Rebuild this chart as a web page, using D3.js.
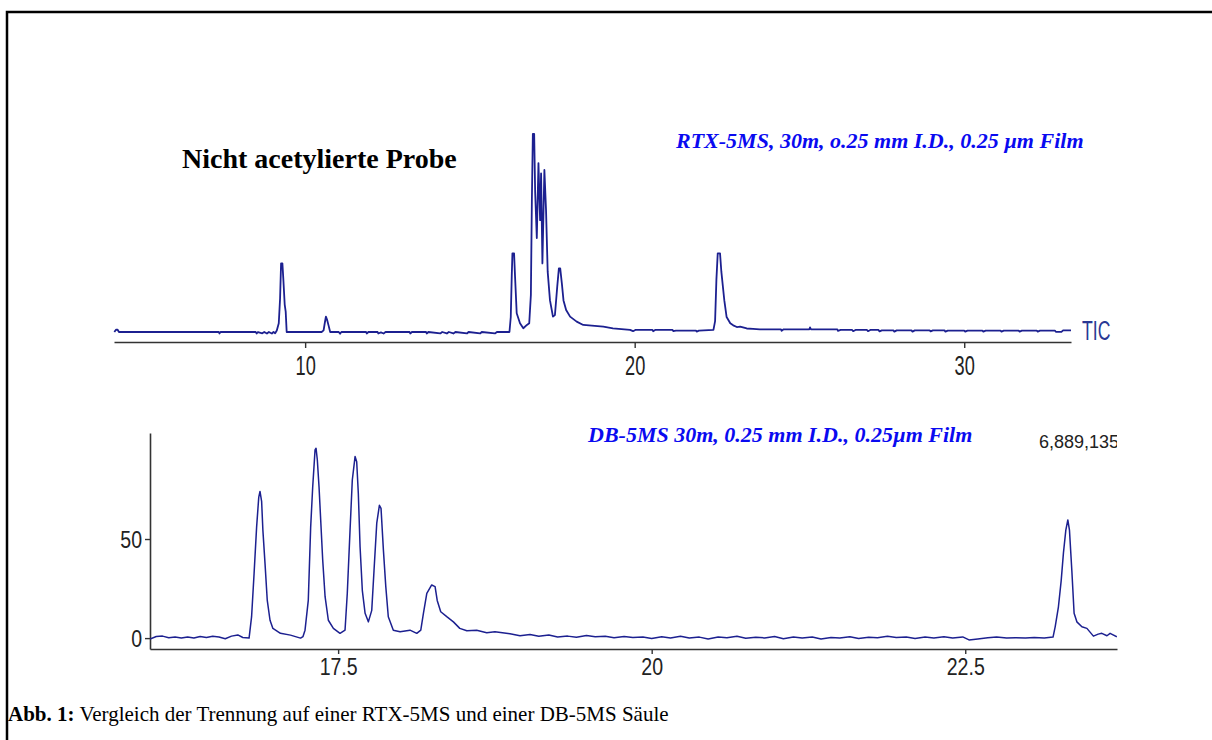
<!DOCTYPE html>
<html>
<head>
<meta charset="utf-8">
<script src="https://cdn.jsdelivr.net/npm/d3@7"></script>
<style>
  body { margin: 0; background: #fff; }
  svg { display: block; }
</style>
</head>
<body>
<script>
// ---- RTX-5MS total ion chromatogram: [retention time (min), relative signal] ----
const rtxTicks = [10, 20, 30];
const rtxTrace = [
  [4.21, 4.8], [4.26, 5.9], [4.31, 5.9], [4.35, 4.8], [5.0, 4.8], [5.8, 4.8], [6.6, 4.8],
  [7.38, 4.8], [7.40, 4.1], [7.43, 4.8], [8.2, 4.8], [8.50, 4.8], [8.53, 4.1], [8.57, 4.8],
  [8.70, 4.2], [8.76, 4.8], [8.84, 4.1], [8.90, 4.8], [8.99, 4.1], [9.04, 4.8], [9.09, 4.2],
  [9.14, 5.5], [9.20, 9], [9.24, 21], [9.27, 37.8], [9.31, 37.8], [9.34, 29.8], [9.38, 18],
  [9.41, 14.6], [9.44, 4.8], [10.00, 4.8], [10.50, 4.8], [10.56, 5.6], [10.60, 9.5],
  [10.63, 12.2], [10.67, 10.5], [10.71, 8.0], [10.76, 4.8], [11.02, 4.8], [11.06, 4.0],
  [11.10, 4.8], [11.85, 4.8], [11.87, 4.1], [11.92, 4.8], [12.20, 4.8], [12.22, 4.1],
  [12.30, 4.6], [12.38, 4.1], [12.44, 4.8], [13.17, 4.8], [13.19, 4.1], [13.24, 4.8],
  [13.67, 4.8], [13.69, 4.1], [13.74, 4.8], [14.10, 4.1], [14.16, 4.8], [14.30, 4.1],
  [14.36, 4.8], [14.50, 4.1], [14.56, 4.8], [14.91, 4.1], [14.96, 4.8], [15.31, 4.1],
  [15.36, 4.8], [15.76, 4.1], [15.82, 4.8], [16.20, 4.8], [16.24, 12], [16.27, 32],
  [16.29, 42.6], [16.34, 42.6], [16.37, 31.4], [16.42, 13.8], [16.52, 9], [16.62, 6.6],
  [16.73, 8.2], [16.80, 9], [16.85, 22.6], [16.88, 67.5], [16.91, 100], [16.95, 100],
  [16.98, 72], [17.03, 50], [17.08, 86], [17.13, 58.6], [17.16, 81], [17.20, 37.8],
  [17.26, 82.7], [17.31, 63.5], [17.36, 33.8], [17.43, 20], [17.52, 12.2], [17.58, 13],
  [17.65, 26.6], [17.70, 35.4], [17.74, 35.4], [17.79, 28.2], [17.84, 20], [17.92, 15.4],
  [18.04, 12.2], [18.24, 9.8], [18.44, 8.2], [19.05, 7.4], [19.34, 6.6], [19.86, 5.8],
  [19.95, 5.2], [20.02, 5.8], [20.54, 5.8], [20.56, 5.2], [20.62, 5.8], [21.15, 5.8],
  [21.17, 5.2], [21.25, 5.5], [21.86, 5.5], [21.88, 5.0], [21.95, 5.5], [22.39, 5.8],
  [22.44, 10], [22.48, 30], [22.52, 42.6], [22.59, 42.6], [22.63, 33.8], [22.72, 20],
  [22.79, 12], [22.90, 9], [22.99, 8], [23.10, 7.2], [23.20, 7.4], [23.40, 6.5],
  [23.59, 6.3], [23.80, 6.1], [24.44, 6.1], [24.46, 5.4], [24.52, 6.1], [25.30, 6.1],
  [25.32, 7.0], [25.35, 6.1], [26.15, 6.1], [26.17, 5.4], [26.25, 5.8], [26.60, 5.8],
  [26.63, 5.2], [26.70, 5.8], [27.05, 5.8], [27.08, 5.2], [27.15, 5.8], [27.40, 5.8],
  [27.43, 5.1], [27.50, 5.6], [27.85, 5.6], [27.88, 5.0], [27.95, 5.6], [28.40, 5.6],
  [28.43, 5.0], [28.50, 5.6], [28.95, 5.6], [28.98, 5.1], [29.05, 5.6], [29.40, 5.6],
  [29.43, 5.0], [29.50, 5.5], [30.00, 5.5], [30.03, 5.0], [30.10, 5.5], [30.55, 5.5],
  [30.58, 5.0], [30.65, 5.5], [31.10, 5.5], [31.13, 5.0], [31.20, 5.5], [31.65, 5.5],
  [31.68, 5.0], [31.75, 5.5], [32.20, 5.5], [32.23, 5.0], [32.30, 5.5], [32.75, 5.5],
  [32.78, 4.9], [32.95, 4.9], [33.00, 5.6], [33.24, 5.6]
];

// ---- DB-5MS chromatogram (%): [retention time (min), relative abundance] ----
const dbTicks = [17.5, 20, 22.5];
const dbYTicks = [0, 50];
const dbTrace = [
  [16.00, -0.5], [16.05, 0.8], [16.10, 1.0], [16.15, 0.2], [16.20, 0.5], [16.25, 0.0],
  [16.30, 0.6], [16.35, 0.1], [16.40, 0.8], [16.45, 0.3], [16.50, 0.9], [16.55, 0.6],
  [16.60, -0.3], [16.65, 1.0], [16.70, 1.6], [16.74, 0.3], [16.79, 0.0], [16.81, 10.8],
  [16.83, 32.7], [16.85, 56], [16.867, 71], [16.877, 74], [16.89, 69], [16.90, 54.5],
  [16.917, 37.7], [16.935, 19], [16.957, 9], [16.98, 4.9], [17.04, 2.4], [17.12, 1.5],
  [17.20, 0.0], [17.22, 0.8], [17.236, 4], [17.262, 19], [17.281, 56], [17.297, 76],
  [17.316, 95], [17.324, 95.8], [17.334, 90], [17.348, 76], [17.361, 59.6], [17.377, 39.4],
  [17.396, 20.9], [17.422, 9], [17.462, 4.9], [17.515, 2.4], [17.555, 4], [17.573, 22.6],
  [17.595, 54.5], [17.613, 79.8], [17.635, 91.6], [17.648, 89], [17.661, 73], [17.675, 46],
  [17.693, 24], [17.715, 12.5], [17.741, 8.2], [17.768, 14], [17.786, 34], [17.808, 58],
  [17.829, 67], [17.842, 65.5], [17.861, 44.4], [17.88, 26], [17.90, 10.8], [17.94, 4],
  [17.994, 3.2], [18.073, 4], [18.127, 2.4], [18.159, 4], [18.18, 12.5], [18.207, 22.6],
  [18.246, 26.8], [18.273, 26], [18.29, 19], [18.318, 13.3], [18.366, 10.8], [18.419, 8.2],
  [18.47, 4.9], [18.526, 3.7], [18.605, 4], [18.685, 2.7], [18.75, 3.2], [18.87, 2.2],
  [18.95, 1.2], [19.03, 1.8], [19.10, 0.9], [19.18, 1.6], [19.25, 0.6], [19.33, 1.0],
  [19.40, 0.4], [19.48, 1.3], [19.55, 0.7], [19.63, 0.9], [19.70, 0.2], [19.78, 0.8],
  [19.85, 0.3], [19.93, 0.6], [20.00, -0.2], [20.08, 0.7], [20.15, 0.1], [20.23, 0.9],
  [20.30, 0.0], [20.38, 0.5], [20.45, -0.4], [20.53, 0.6], [20.60, 0.2], [20.68, 0.9],
  [20.75, -0.1], [20.83, 0.4], [20.90, 0.1], [20.98, 0.8], [21.05, -0.3], [21.13, 0.5],
  [21.20, 0.0], [21.28, 0.6], [21.35, -0.5], [21.43, 0.3], [21.50, 0.1], [21.58, 0.7],
  [21.65, -0.2], [21.73, 0.4], [21.80, 0.2], [21.88, 0.9], [21.95, 0.3], [22.03, 0.6],
  [22.10, -0.2], [22.18, 0.5], [22.25, 0.1], [22.33, 0.7], [22.40, 0.0], [22.48, 0.6],
  [22.53, -0.9], [22.60, -0.4], [22.68, 0.2], [22.75, 0.6], [22.83, 0.1], [22.90, 0.2],
  [22.98, 0.0], [23.05, 0.3], [23.13, 0.1], [23.20, 0.5], [23.217, 5.7], [23.243, 15.8],
  [23.265, 29], [23.283, 43], [23.302, 54.5], [23.318, 59.6], [23.331, 54.5], [23.35, 34],
  [23.368, 12.5], [23.39, 8.2], [23.43, 5.7], [23.47, 4.9], [23.522, 1.0], [23.56, 2.0],
  [23.589, 2.4], [23.63, 1.2], [23.655, 2.4], [23.709, 0.7]
];

// ---- labels ----
const sampleTitle = "Nicht acetylierte Probe";
const rtxLabel = "RTX-5MS, 30m, o.25 mm I.D., 0.25 µm Film";
const dbLabel = "DB-5MS 30m, 0.25 mm I.D., 0.25µm Film";
const ticLabel = "TIC";
const dbMaxLabel = "6,889,135";
const captionBold = "Abb. 1:";
const captionText = " Vergleich der Trennung auf einer RTX-5MS und einer DB-5MS Säule";

const W = 1212, H = 740;
const traceColor = "#1c2090";
const labelBlue = "#0a0af0";
const axisColor = "#333";
const sansFont = "'Liberation Sans', Arial, sans-serif";
const serifFont = "'Liberation Serif', 'Times New Roman', serif";

const svg = d3.select("body").append("svg").attr("width", W).attr("height", H);

// page frame
svg.append("path")
  .attr("d", `M7,${H}V12H${W}`)
  .attr("fill", "none").attr("stroke", "#000").attr("stroke-width", 2.5);

// ===== upper panel: RTX-5MS =====
const xTop = d3.scaleLinear().domain([4.2, 33.24]).range([114, 1071]);
const yTop = d3.scaleLinear().domain([0, 100]).range([342, 134]);

const axTop = svg.append("g")
  .attr("transform", `translate(0,${yTop(0)})`)
  .call(d3.axisBottom(xTop).tickValues(rtxTicks).tickSize(6).tickSizeOuter(0).tickFormat(d3.format("d")));
axTop.select(".domain").attr("stroke", axisColor).attr("stroke-width", 1.6);
axTop.selectAll(".tick line").attr("stroke", axisColor).attr("stroke-width", 1.4);
axTop.selectAll(".tick text")
  .attr("font-family", sansFont).attr("font-size", 28).attr("fill", "#222")
  .attr("y", 33).attr("dy", null)
  .attr("transform", "scale(0.65,1)");

const lineTop = d3.line().x(d => xTop(d[0])).y(d => yTop(d[1]));
svg.append("path").datum(rtxTrace)
  .attr("d", lineTop)
  .attr("fill", "none").attr("stroke", traceColor)
  .attr("stroke-width", 1.8).attr("stroke-linejoin", "round");

svg.append("g").attr("transform", `translate(1082,340) scale(0.63,1)`)
  .append("text").text(ticLabel)
  .attr("font-family", sansFont).attr("font-size", 28).attr("fill", "#2a3894");

svg.append("text").text(sampleTitle)
  .attr("x", 182).attr("y", 168)
  .attr("font-family", serifFont).attr("font-weight", "bold").attr("font-size", 28)
  .attr("fill", "#000");

svg.append("text").text(rtxLabel)
  .attr("x", 676).attr("y", 148)
  .attr("font-family", serifFont).attr("font-weight", "bold").attr("font-style", "italic")
  .attr("font-size", 22).attr("fill", labelBlue);

// ===== lower panel: DB-5MS =====
const xBot = d3.scaleLinear().domain([16.0, 23.71]).range([150, 1117]);
const yBot = d3.scaleLinear().domain([-5.5, 103.5]).range([649, 433]);

svg.append("defs").append("clipPath").attr("id", "botClip")
  .append("rect").attr("x", 150).attr("y", 400).attr("width", 1117 - 150).attr("height", 260);

const axBotX = svg.append("g")
  .attr("transform", `translate(0,649)`)
  .call(d3.axisBottom(xBot).tickValues(dbTicks).tickSize(5).tickSizeOuter(0).tickFormat(d => d % 1 ? d3.format(".1f")(d) : d3.format("d")(d)));
axBotX.select(".domain").attr("stroke", axisColor).attr("stroke-width", 1.6);
axBotX.selectAll(".tick line").attr("stroke", axisColor).attr("stroke-width", 1.4);
axBotX.selectAll(".tick text")
  .attr("font-family", sansFont).attr("font-size", 23).attr("fill", "#222")
  .attr("y", 26).attr("dy", null)
  .attr("transform", "scale(0.85,1)");

const axBotY = svg.append("g")
  .attr("transform", `translate(150,0)`)
  .call(d3.axisLeft(yBot).tickValues(dbYTicks).tickSize(5).tickSizeOuter(0).tickFormat(d3.format("d")));
axBotY.select(".domain").attr("stroke", axisColor).attr("stroke-width", 1.6);
axBotY.selectAll(".tick line").attr("stroke", axisColor).attr("stroke-width", 1.4);
axBotY.selectAll(".tick text")
  .attr("font-family", sansFont).attr("font-size", 23).attr("fill", "#222")
  .attr("x", -9.4).attr("dy", "0.36em")
  .attr("transform", "scale(0.85,1)");

const lineBot = d3.line().x(d => xBot(d[0])).y(d => yBot(d[1]));
svg.append("path").datum(dbTrace)
  .attr("d", lineBot)
  .attr("clip-path", "url(#botClip)")
  .attr("fill", "none").attr("stroke", traceColor)
  .attr("stroke-width", 1.5).attr("stroke-linejoin", "round");

svg.append("text").text(dbLabel)
  .attr("x", 588).attr("y", 442)
  .attr("font-family", serifFont).attr("font-weight", "bold").attr("font-style", "italic")
  .attr("font-size", 22).attr("fill", labelBlue);

svg.append("text").text(dbMaxLabel)
  .attr("x", 1039).attr("y", 448)
  .attr("clip-path", "url(#botClip)")
  .attr("font-family", sansFont).attr("font-size", 18).attr("fill", "#222");

// ===== caption =====
const cap = svg.append("text")
  .attr("x", 8).attr("y", 721)
  .attr("font-family", serifFont).attr("font-size", 21).attr("fill", "#000");
cap.append("tspan").attr("font-weight", "bold").text(captionBold);
cap.append("tspan").text(captionText);
</script>
</body>
</html>
